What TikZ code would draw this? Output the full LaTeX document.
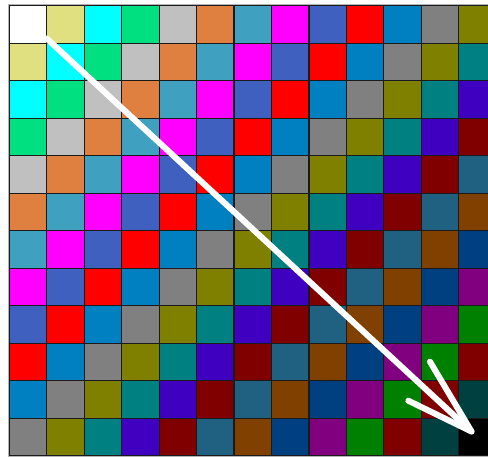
\documentclass[tikz,border=0pt]{standalone}
\definecolor{k0}{HTML}{FFFFFF}
\definecolor{k1}{HTML}{E0E080}
\definecolor{k2}{HTML}{00FFFF}
\definecolor{k3}{HTML}{00E080}
\definecolor{k4}{HTML}{C0C0C0}
\definecolor{k5}{HTML}{E08040}
\definecolor{k6}{HTML}{40A0C0}
\definecolor{k7}{HTML}{FF00FF}
\definecolor{k8}{HTML}{4060C0}
\definecolor{k9}{HTML}{FF0000}
\definecolor{k10}{HTML}{0080C0}
\definecolor{k11}{HTML}{808080}
\definecolor{k12}{HTML}{808000}
\definecolor{k13}{HTML}{008080}
\definecolor{k14}{HTML}{4000C0}
\definecolor{k15}{HTML}{800000}
\definecolor{k16}{HTML}{206080}
\definecolor{k17}{HTML}{804000}
\definecolor{k18}{HTML}{004080}
\definecolor{k19}{HTML}{800080}
\definecolor{k20}{HTML}{008000}
\definecolor{k21}{HTML}{800000}
\definecolor{k22}{HTML}{004040}
\definecolor{k23}{HTML}{000000}
\definecolor{framegray}{HTML}{B4B4B4}
\definecolor{gridline}{HTML}{1A1A1A}
\tikzset{
  cellbox/.style={draw=gridline, line width=1.2pt},
  arrowline/.style={draw=white, line width=6pt, line cap=round, line join=round}
}
\begin{document}
\begin{tikzpicture}[x=1pt,y=-1pt]
\useasboundingbox (0,0) rectangle (488,457);
\fill[white] (0,0) rectangle (488,457);
\fill[framegray] (7.5,3.8) rectangle (500,457.5);
\foreach \r in {0,...,11}{
  \foreach \c in {0,...,12}{
    \pgfmathtruncatemacro\k{\r+\c}
    \path[cellbox, fill=k\k] ({9.3+37.45*\c},{5.7+37.5*\r}) rectangle ++(37.45,37.5);
  }
}
\coordinate (start) at (46.7,38.5);
\coordinate (tip) at (471.5,431.5);
\coordinate (barbA) at (430,361.7);
\coordinate (barbB) at (408.3,400.7);
\path[arrowline] (start) -- (tip);
\path[arrowline] (barbA) -- (tip) -- (barbB);
\end{tikzpicture}
\end{document}
